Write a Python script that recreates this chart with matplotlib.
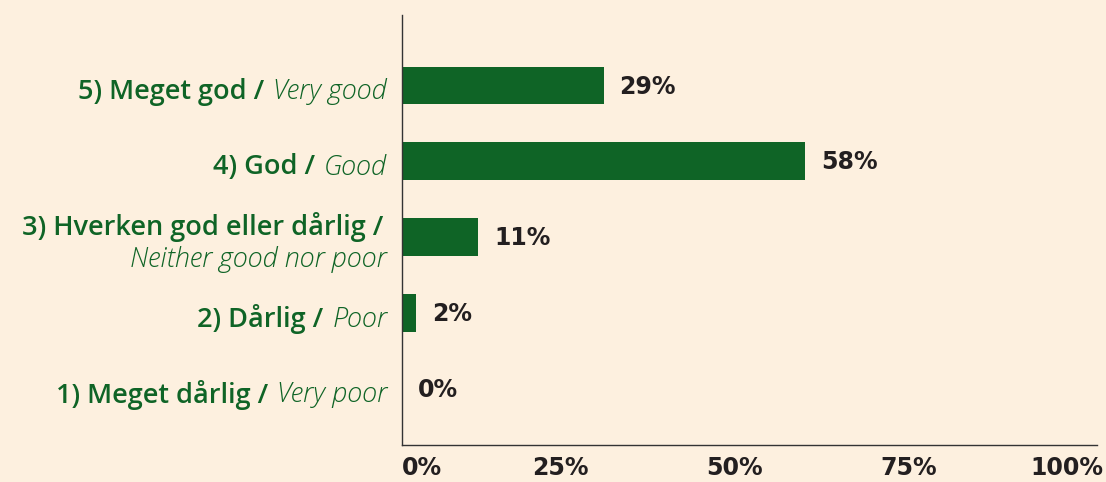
import matplotlib
matplotlib.use("Agg")
import matplotlib.pyplot as plt
from matplotlib.transforms import offset_copy

# data (bottom to top)
codes = ["1)", "2)", "3)", "4)", "5)"]
labels_da = ["Meget dårlig /", "Dårlig /", "Hverken god eller dårlig /", "God /", "Meget god /"]
labels_en = ["Very poor", "Poor", "Neither good nor poor", "Good", "Very good"]
values = [0, 2, 11, 58, 29]
xticks = [0, 25, 50, 75, 100]
xtick_labels = ["0%", "25%", "50%", "75%", "100%"]

BG = "#fdf0df"
GREEN = "#0f6426"
DARK = "#231f20"
LABEL_FONT = "Open Sans"
NUM_FONT = "DejaVu Sans"
LSIZE = 19.5
NSIZE = 17

fig = plt.figure(figsize=(11.06, 4.82), dpi=100, facecolor=BG)
ax = fig.add_axes([0.3635, 0.0768, 0.6284, 0.8921])
ax.set_facecolor(BG)

ypos = list(range(len(values)))
ax.barh(ypos, values, height=0.5, color=GREEN)
for y, v in zip(ypos, values):
    ax.annotate(f"{v}%", (v, y), xytext=(16, -1), textcoords="offset pixels",
                ha="left", va="center", fontsize=NSIZE, fontweight="bold",
                family=NUM_FONT, color=DARK)

ax.set_xlim(0, 100)
ax.set_ylim(-0.74, 4.93)
for s in ["top", "right"]:
    ax.spines[s].set_visible(False)
for s in ["left", "bottom"]:
    ax.spines[s].set_color("#333333")
    ax.spines[s].set_linewidth(1.0)

ax.set_yticks([])
ax.set_xticks(xticks)
ax.set_xticklabels(xtick_labels, fontsize=NSIZE, fontweight="bold", family=NUM_FONT, color=DARK)
ax.tick_params(axis="x", length=0, pad=8)
tl = ax.get_xticklabels()
tl[0].set_ha("left")
tl[-1].set_ha("right")
tl[-1].set_transform(offset_copy(tl[-1].get_transform(), fig=fig, x=6, y=0, units="dots"))
for t in tl[1:-1]:
    t.set_transform(offset_copy(t.get_transform(), fig=fig, x=-15, y=0, units="dots"))

# category labels: upright danish part + italic english part
renderer = fig.canvas.get_renderer()
base = ax.get_yaxis_transform()
for y, c, da, en in zip(ypos, codes, labels_da, labels_en):
    if len(da) > 20:
        ax.text(0, y, en, transform=offset_copy(base, fig=fig, x=-15, y=-22, units="dots"),
                ha="right", va="center", fontsize=LSIZE, style="italic", fontweight="light",
                family=LABEL_FONT, color=GREEN)
        ax.text(0, y, f"{c} {da}", transform=offset_copy(base, fig=fig, x=-19, y=10, units="dots"),
                ha="right", va="center", fontsize=LSIZE, fontweight="semibold", family=LABEL_FONT, color=GREEN)
        continue
    it = ax.text(0, y, en, transform=offset_copy(base, fig=fig, x=-15, y=-6, units="dots"),
                 ha="right", va="center", fontsize=LSIZE, style="italic", fontweight="light",
                 family=LABEL_FONT, color=GREEN)
    w = it.get_window_extent(renderer).width
    ax.text(0, y, f"{c} {da}", transform=offset_copy(base, fig=fig, x=-15 - w - 9, y=-6, units="dots"),
            ha="right", va="center", fontsize=LSIZE, fontweight="semibold", family=LABEL_FONT, color=GREEN)

fig.savefig("out.png", dpi=100, facecolor=BG)
